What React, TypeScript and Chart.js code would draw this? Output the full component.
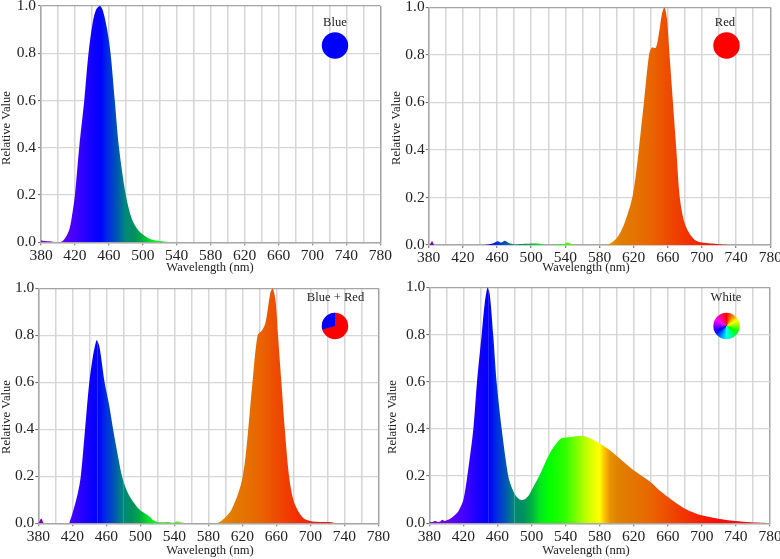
import React, { useEffect, useRef } from "react";
import { Chart, registerables } from "chart.js";

Chart.register(...registerables);

const FONT = '"Liberation Serif", "Times New Roman", serif';

const xTickLabels = [380, 420, 460, 500, 540, 580, 620, 660, 700, 740, 780];

const blueWl = [380, 385, 390, 395, 400, 404, 408, 413, 416, 420, 425, 431, 436, 441, 445, 449.5, 453, 458, 462, 467, 472, 480, 487, 495, 505, 510, 520, 535, 780];
const blueVal = [0.008, 0.006, 0.004, 0.001, 0, 0.002, 0.015, 0.05, 0.1, 0.2, 0.4, 0.6, 0.8, 0.93, 0.985, 1, 0.98, 0.9, 0.8, 0.6, 0.4, 0.2, 0.1, 0.05, 0.02, 0.012, 0.005, 0, 0];

const redWl = [380, 381, 384, 387, 445, 450, 455, 461, 465, 469, 474, 480, 485, 495, 505, 510, 516, 525, 530, 535, 538, 543, 548, 551, 586, 590, 595, 600, 604, 608, 612, 616, 619, 622, 626, 632, 638, 641, 646, 650, 653, 656, 659, 662, 666, 670, 674, 679, 685, 692, 700, 720, 730, 780];
const redVal = [0, 0, 0.016, 0, 0, 0.002, 0.006, 0.016, 0.01, 0.018, 0.008, 0.002, 0.003, 0.005, 0.006, 0.005, 0, 0, 0.002, 0.003, 0.003, 0.011, 0.003, 0, 0, 0.003, 0.012, 0.028, 0.05, 0.08, 0.12, 0.165, 0.21, 0.28, 0.4, 0.6, 0.8, 0.83, 0.83, 0.9, 0.97, 1, 0.95, 0.8, 0.6, 0.4, 0.2, 0.1, 0.05, 0.02, 0.01, 0.003, 0, 0];

const mixWl = [380, 381, 383.5, 387, 416, 417, 420, 426, 430, 435, 440, 444.7, 448, 449, 452, 458, 463.5, 468, 473, 478.5, 484, 490, 494, 498, 503, 507, 511, 515, 519, 525, 533, 538, 543, 548, 552, 589, 594, 600, 606, 610, 614, 618, 621, 624, 627, 632, 638, 643, 647, 649.5, 653, 655.7, 659, 662, 666, 670, 675, 680, 686, 692, 700, 710, 725, 730, 780];
const mixVal = [0.005, 0.006, 0.02, 0, 0, 0.008, 0.04, 0.12, 0.2, 0.4, 0.6, 0.72, 0.775, 0.78, 0.75, 0.6, 0.5, 0.4, 0.3, 0.2, 0.14, 0.1, 0.08, 0.062, 0.048, 0.038, 0.028, 0.013, 0.007, 0.004, 0.006, 0.002, 0.008, 0.004, 0, 0, 0.008, 0.025, 0.05, 0.08, 0.115, 0.16, 0.21, 0.29, 0.4, 0.6, 0.8, 0.82, 0.85, 0.9, 0.98, 1, 0.95, 0.8, 0.6, 0.4, 0.2, 0.1, 0.05, 0.022, 0.01, 0.006, 0.005, 0, 0];

const whiteWl = [380, 383, 387, 390, 393, 395, 398, 402, 405, 410, 414, 420, 424.6, 431.7, 436, 441.5, 445, 448.5, 451, 455, 459, 465, 472.7, 477, 482, 487, 492, 497, 503, 509, 522, 535, 545, 561, 574.5, 592, 619.5, 639, 650, 660.6, 670, 682, 692, 702, 725, 748.7, 765, 780];
const whiteVal = [0.005, 0.005, 0.01, 0.006, 0.008, 0.015, 0.01, 0.015, 0.02, 0.035, 0.05, 0.1, 0.2, 0.4, 0.6, 0.8, 0.93, 1, 0.97, 0.8, 0.6, 0.4, 0.2, 0.15, 0.115, 0.1, 0.102, 0.12, 0.16, 0.2, 0.3, 0.36, 0.365, 0.37, 0.35, 0.31, 0.226, 0.177, 0.14, 0.11, 0.085, 0.058, 0.043, 0.032, 0.016, 0.007, 0.003, 0];

const yTicks = [0, 0.2, 0.4, 0.6, 0.8, 1];

const spectrumNm = [380, 400, 420, 440, 450, 460, 470, 480, 490, 500, 510, 520, 540, 560, 575, 580, 585, 592, 600, 610, 620, 640, 660, 680, 700, 720, 780];
const spectrumColor = ["#7a00d8", "#6a00f0", "#4400ff", "#1200ff", "#0000ff", "#0030e0", "#0058b0", "#008a78", "#009060", "#00b040", "#00e820", "#00ff00", "#33ff00", "#a8ff00", "#f0ff00", "#ffff00", "#ffc800", "#e89400", "#e08400", "#e27a00", "#e47400", "#e86600", "#ee4c00", "#f23400", "#fa1e00", "#ff0a00", "#ff0000"];

const whitePalette = ["#ff0000", "#ff8000", "#ffff00", "#80ff00", "#00ff00", "#00ff80", "#00ffff", "#0080ff", "#0000ff", "#8000ff", "#ff00ff", "#ff0080", "#ff0000"];

const panels = [
  { name: "Blue", wl: blueWl, val: blueVal, box: [0, 0, 395, 280], plot: [41, 380.3, 6, 242.3], xTitle: [210, 268], yTitle: [7, 128], labelAt: [335, 22.5], icon: [335, 45.5], kind: "blue", seams: [449.7, 480], yPad: 2 },
  { name: "Red", wl: redWl, val: redVal, box: [385, 0, 395, 280], plot: [428.7, 770.3, 7.3, 245], xTitle: [586, 268], yTitle: [397, 128], labelAt: [725, 22.5], icon: [726.5, 45.5], kind: "red", seams: [], yPad: 1 },
  { name: "Blue + Red", wl: mixWl, val: mixVal, box: [0, 280, 395, 279], plot: [38.3, 378.3, 288.3, 523.3], xTitle: [210, 551], yTitle: [7, 417], labelAt: [335.5, 298], icon: [335, 326], kind: "mix", seams: [449.7, 480], yPad: 1 },
  { name: "White", wl: whiteWl, val: whiteVal, box: [385, 280, 395, 279], plot: [429.3, 770, 287.3, 523.3], xTitle: [586, 551], yTitle: [393, 417], labelAt: [726, 298], icon: [726.5, 326], kind: "white", seams: [449.7, 480], yPad: 1 },
];

type Panel = (typeof panels)[number];

const hexToRgb = (h: string) => [1, 3, 5].map((i) => parseInt(h.slice(i, i + 2), 16));

function spectrumAt(nm: number, lift: number) {
  let i = 0;
  while (i < spectrumNm.length - 2 && spectrumNm[i + 1] < nm) i++;
  const t = (nm - spectrumNm[i]) / (spectrumNm[i + 1] - spectrumNm[i]);
  const a = hexToRgb(spectrumColor[i]);
  const b = hexToRgb(spectrumColor[i + 1]);
  const c = a.map((v, k) => v + (b[k] - v) * t).map((v) => Math.round(v + (255 - v) * lift));
  return `rgb(${c[0]},${c[1]},${c[2]})`;
}

function PanelChart({ panel }: { panel: Panel }) {
  const ref = useRef<HTMLCanvasElement>(null);
  useEffect(() => {
    const [bx, by, bw, bh] = panel.box;
    const [pl, pr, pt, pb] = panel.plot;
    const decor = {
      id: "decor",
      afterDraw(chart: any) {
        const c = chart.ctx;
        c.save();
        c.fillStyle = "#222";
        c.textAlign = "center";
        c.textBaseline = "middle";
        c.font = `12.6px ${FONT}`;
        c.fillText(panel.name, panel.labelAt[0] - bx, panel.labelAt[1] - by);
        c.fillText("Wavelength (nm)", panel.xTitle[0] - bx, panel.xTitle[1] - by);
        c.save();
        c.translate(panel.yTitle[0] - bx, panel.yTitle[1] - by);
        c.rotate(-Math.PI / 2);
        c.fillText("Relative Value", 0, 0);
        c.restore();
        const cx = panel.icon[0] - bx;
        const cy = panel.icon[1] - by;
        const r = 13.2;
        if (panel.kind === "white") {
          const g = c.createConicGradient(-Math.PI / 2, cx, cy);
          whitePalette.forEach((col, i) => g.addColorStop(i / (whitePalette.length - 1), col));
          c.fillStyle = g;
          c.beginPath();
          c.arc(cx, cy, r, 0, Math.PI * 2);
          c.fill();
        } else if (panel.kind === "mix") {
          const split = -Math.PI / 2 - (105 / 180) * Math.PI;
          c.fillStyle = "#ff0000";
          c.beginPath();
          c.arc(cx, cy, r, 0, Math.PI * 2);
          c.fill();
          c.fillStyle = "#0000ff";
          c.beginPath();
          c.moveTo(cx, cy);
          c.arc(cx, cy, r, split, -Math.PI / 2);
          c.closePath();
          c.fill();
        } else {
          c.fillStyle = panel.kind === "blue" ? "#0000ff" : "#ff0000";
          c.beginPath();
          c.arc(cx, cy, r, 0, Math.PI * 2);
          c.fill();
        }
        c.restore();
      },
    };
    const fillFor = (ctx: any) => {
      const chart = ctx.chart;
      const x = chart.scales?.x;
      if (!x || !chart.chartArea) return "#0000ff";
      const g = chart.ctx.createLinearGradient(x.left, 0, x.right, 0);
      const pos = (nm: number) => (nm - 380) / 400;
      spectrumNm.forEach((nm, i) => g.addColorStop(pos(nm), spectrumColor[i]));
      panel.seams.forEach((nm) => {
        g.addColorStop(pos(nm - 0.8), spectrumAt(nm - 0.8, 0));
        g.addColorStop(pos(nm), spectrumAt(nm, 0.2));
        g.addColorStop(pos(nm + 0.8), spectrumAt(nm + 0.8, 0));
      });
      return g;
    };
    const chart = new Chart(ref.current!, {
      type: "line",
      data: {
        datasets: [
          {
            label: panel.name,
            data: panel.wl.map((x, i) => ({ x, y: panel.val[i] })),
            parsing: false,
            borderWidth: 0,
            pointRadius: 0,
            tension: 0.3,
            fill: "origin",
            backgroundColor: fillFor,
          } as any,
        ],
      },
      options: {
        responsive: false,
        animation: false,
        events: [],
        layout: {
          autoPadding: false,
          padding: { left: 0, top: pt - by, right: bx + bw - pr, bottom: 0 },
        },
        plugins: { legend: { display: false }, tooltip: { enabled: false }, title: { display: false } },
        scales: {
          x: {
            type: "linear",
            min: 380,
            max: 780,
            afterFit(s: any) {
              s.height = by + bh - pb;
              s.paddingLeft = 0;
              s.paddingRight = 0;
            },
            afterBuildTicks(s: any) {
              const t: any[] = [];
              for (let v = 380; v <= 780; v += 20) t.push({ value: v });
              s.ticks = t;
            },
            grid: {
              color: (c: any) => (c.tick?.value === 780 ? "#a4a4a4" : "#d6d6d6"),
              lineWidth: 1.5,
              tickLength: 3,
              tickWidth: 1,
              tickColor: (c: any) => (xTickLabels.includes(c.tick?.value) ? "#666" : "rgba(0,0,0,0)"),
            },
            border: { color: "#a8a8a8", width: 1.5 },
            ticks: {
              autoSkip: false,
              maxRotation: 0,
              padding: 1,
              color: "#222",
              font: { family: FONT, size: 15.5 },
              callback: (v: any) => (xTickLabels.includes(Number(v)) ? String(v) : ""),
            },
          },
          y: {
            type: "linear",
            min: 0,
            max: 1,
            afterFit(s: any) {
              s.width = pl - bx;
              s.paddingTop = 0;
              s.paddingBottom = 0;
            },
            afterBuildTicks(s: any) {
              s.ticks = yTicks.map((value) => ({ value }));
            },
            grid: {
              color: (c: any) => (c.tick?.value === 1 ? "#a4a4a4" : "#d6d6d6"),
              lineWidth: 1.2,
              tickLength: 3,
              tickWidth: 1,
              tickColor: "#666",
            },
            border: { color: "#a8a8a8", width: 1.5 },
            ticks: {
              padding: panel.yPad,
              color: "#222",
              font: { family: FONT, size: 15.5 },
              callback: (v: any) => Number(v).toFixed(1),
            },
          },
        },
      },
      plugins: [decor],
    } as any);
    return () => chart.destroy();
  }, [panel]);
  const [bx, by, bw, bh] = panel.box;
  return (
    <canvas
      ref={ref}
      width={bw}
      height={bh}
      style={{ position: "absolute", left: bx, top: by, width: bw, height: bh }}
    />
  );
}

export default function App() {
  return (
    <div style={{ position: "absolute", left: 0, top: 0, width: 780, height: 559, overflow: "hidden", background: "#fff" }}>
      {panels.map((p) => (
        <PanelChart key={p.name} panel={p} />
      ))}
    </div>
  );
}
